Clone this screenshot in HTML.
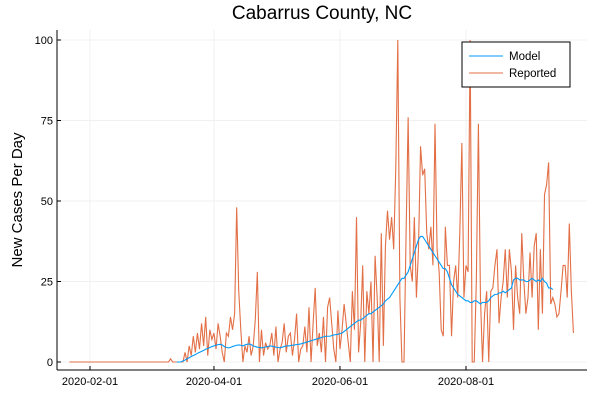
<!DOCTYPE html>
<html><head><meta charset="utf-8"><style>
body{margin:0;background:#fff;font-family:"Liberation Sans",sans-serif;}
svg text{font-family:"Liberation Sans",sans-serif;}
</style></head><body>
<svg id="chart" width="600" height="400" viewBox="0 0 600 400">
<text x="322" y="19" text-anchor="middle" font-size="19" fill="#000">Cabarrus County, NC</text>
<text transform="translate(22,200) rotate(-90)" text-anchor="middle" font-size="15" fill="#000">New Cases Per Day</text>
<g id="grid"></g>
<g id="axes"></g>
<g id="series"></g>
<g>
<rect x="462" y="42" width="108" height="45" fill="#fff" stroke="#000" stroke-width="1"/>
<line x1="469" y1="56" x2="503" y2="56" stroke="#009AFA" stroke-width="1"/>
<text x="509" y="60" font-size="11.5">Model</text>
<line x1="469" y1="73" x2="503" y2="73" stroke="#E26F46" stroke-width="1"/>
<text x="509" y="77" font-size="11.5">Reported</text>
</g>
</svg>
<script>
const yTicks=[0,25,50,75,100];
const xTickLabels=["2020-02-01","2020-04-01","2020-06-01","2020-08-01"];
const xTickDays=[10,70,131,192];
const reported=[0,0,0,0,0,0,0,0,0,0,0,0,0,0,0,0,0,0,0,0,0,0,0,0,0,0,0,0,0,0,0,0,0,0,0,0,0,0,0,0,0,0,0,0,0,0,0,0,0,1,0,0,0,0,0,0,
3,0,5,2,8,3,9,4,12,5,14,2,10,7,9,
4,12,8,3,0,9,8,14,10,15,48,22,10,0,5,
3,8,2,5,13,28,0,10,2,6,4,5,9,2,11,
0,4,6,12,3,8,9,2,7,15,0,4,5,11,3,
17,0,12,23,5,9,3,14,0,17,20,12,4,0,16,
4,10,18,12,6,0,22,10,45,3,12,30,0,22,15,
25,0,33,20,
0,40,5,36,47,38,45,35,60,100,20,0,0,40,76,30,25,45,20,35,67,58,60,40,35,42,
30,74,35,28,10,8,42,30,30,8,25,30,20,40,68,20,30,28,100,0,0,25,74,20,0,15,22,0,22,23,30,35,12,20,25,35,20,35,28,10,30,20,15,40,25,15,20,34,20,36,40,10,35,15,52,55,62,18,20,18,14,15,22,30,30,20,43,22,9];
const modelStart=52;
const model=[0,0,0,0.3,0.6,1,1.3,1.7,2,2.3,2.7,3,3.3,3.6,4,4.2,4.5,4.8,5,5.2,
5.4,5.5,5.3,4.8,4.5,4.4,4.5,4.8,5,5.2,5.3,5.2,5.0,5.3,5.5,5.6,5.4,5.0,4.8,4.6,
4.5,4.4,4.5,4.7,4.8,5.0,4.9,4.8,4.6,4.5,4.4,4.6,4.8,5,5,5.1,5.2,5.3,5.4,5.5,
5.6,5.8,6,6.2,6.4,6.6,6.8,7,7.2,7.4,7.6,7.8,8,8,8,8.2,8.4,8.5,8.6,8.8,
9,9.5,10,10.5,11,11.5,12,12.5,13,13,13.5,14,14.5,15,15,15.5,16,16.5,17,17.5,
18,19,19.5,20,21,22,23,24,25,26,26,27,28,30,32,34,36,38,39,39,
38,37,36,35,34,33,32,31,30,29,29,28,26,24,23,22,21,20.5,20,19.5,
19,19,18.5,18.5,19,19,18.5,18,18.5,18.5,18.5,19,20,20.5,21,21,21.5,21.5,22,21.5,
22,22.5,23,25.5,26,26,25.5,25.5,25.5,25,25,25.5,26,25.5,25,25.5,25,26,25,24.5,23,23,22.5];

const NS="http://www.w3.org/2000/svg";
const L=57,R=587,T=30,B=370;
function X(d){return 90+(d-10)*(466-90)/182;}
function Y(v){return 362-v*3.22;}
function mk(tag,attrs,parent){const e=document.createElementNS(NS,tag);for(const k in attrs)e.setAttribute(k,attrs[k]);parent.appendChild(e);return e;}
const grid=document.getElementById('grid'),axes=document.getElementById('axes'),series=document.getElementById('series');
yTicks.forEach(v=>{
  const g=mk('line',{x1:L,x2:R,y1:Y(v),y2:Y(v),stroke:'#f0f0f0','stroke-width':1},grid);
  
  
  const t=mk('line',{x1:L,x2:L+4,y1:Y(v),y2:Y(v),stroke:'#000','stroke-width':1},axes);
  
  
  const tx=mk('text',{x:L-4,y:Y(v)+4,'text-anchor':'end','font-size':11},axes);
  tx.textContent=v;
  
  
});
xTickDays.forEach((d,i)=>{
  const g=mk('line',{x1:X(d),x2:X(d),y1:T,y2:B,stroke:'#f0f0f0','stroke-width':1},grid);
  
  
  const t=mk('line',{x1:X(d),x2:X(d),y1:B,y2:B-4,stroke:'#000','stroke-width':1},axes);
  
  
  const tx=mk('text',{x:X(d),y:B+15,'text-anchor':'middle','font-size':11},axes);
  tx.textContent=xTickLabels[i];
  
  
});
const ya=mk('line',{x1:L,x2:L,y1:T,y2:B,stroke:'#000','stroke-width':1},axes);


const xa=mk('line',{x1:L,x2:R,y1:B,y2:B,stroke:'#000','stroke-width':1},axes);


const rp=mk('polyline',{points:reported.map((v,i)=>X(i).toFixed(2)+','+Y(v).toFixed(2)).join(' '),fill:'none',stroke:'#E26F46','stroke-width':1.1},series);


const mp=mk('polyline',{points:model.map((v,i)=>X(i+modelStart).toFixed(2)+','+Y(v).toFixed(2)).join(' '),fill:'none',stroke:'#009AFA','stroke-width':1.1},series);


</script>
</body></html>
